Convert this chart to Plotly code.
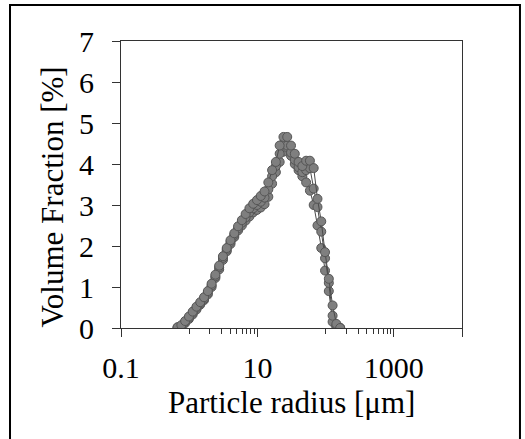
import plotly.graph_objects as go

# Particle radius bins [µm]
radius = [0.6754, 0.7672, 0.8719, 0.9905, 1.1254, 1.2785, 1.4528, 1.6505, 1.8755,
          2.1306, 2.4209, 2.7504, 3.1249, 3.5503, 4.0338, 4.5831, 5.2071, 5.9162,
          6.7218, 7.6370, 8.6770, 9.8585, 11.201, 12.726, 14.459, 16.428, 18.665,
          21.206, 24.094, 27.375, 31.102, 35.337, 40.149, 45.616, 51.827, 58.884,
          66.902, 76.012, 86.362, 98.118, 111.48, 126.66, 143.91, 163.51]

run_a = [0.02, 0.07, 0.17, 0.28, 0.40, 0.52, 0.63, 0.75, 0.90, 1.08, 1.30, 1.52,
         1.75, 1.95, 2.14, 2.31, 2.48, 2.63, 2.78, 2.92, 3.03, 3.12, 3.22, 3.33,
         3.55, 3.85, 4.05, 4.45, 4.66, 4.66, 4.45, 4.25, 4.05, 3.95, 4.08, 4.08,
         3.90, 3.15, 2.60, 1.85, 1.20, 0.55, 0.10, 0.00]
run_b = [0.01, 0.05, 0.15, 0.25, 0.37, 0.49, 0.60, 0.71, 0.86, 1.04, 1.26, 1.48,
         1.71, 1.91, 2.10, 2.27, 2.43, 2.57, 2.70, 2.82, 2.92, 3.00, 3.08, 3.18,
         3.38, 3.70, 3.95, 4.25, 4.50, 4.45, 4.28, 4.10, 3.92, 3.80, 3.85, 3.90,
         3.40, 2.95, 2.35, 1.70, 1.10, 0.30, 0.06, 0.00]
run_c = [0.00, 0.04, 0.12, 0.22, 0.33, 0.45, 0.57, 0.68, 0.82, 1.00, 1.22, 1.43,
         1.66, 1.87, 2.05, 2.22, 2.38, 2.50, 2.62, 2.72, 2.82, 2.88, 2.94, 3.02,
         3.20, 3.52, 3.80, 4.05, 4.30, 4.40, 4.20, 4.00, 3.85, 3.70, 3.55, 3.35,
         3.00, 2.50, 1.95, 1.40, 0.90, 0.15, 0.02, 0.00]

x_tickvals = [0.1, 10, 1000, 10000]
x_ticktext = ["0.1", "10", "1000", ""]
x_minor = [1, 2, 3, 4, 5, 6, 7, 8, 9, 100, 200, 300, 400, 500, 600, 700, 800, 900]
y_tickvals = [0, 1, 2, 3, 4, 5, 6, 7]

FONT = "Liberation Serif, Times New Roman, serif"

fig = go.Figure()
for run in (run_c, run_b, run_a):
    fig.add_trace(go.Scatter(
        x=radius, y=run, mode="lines+markers",
        line=dict(color="#4a4a4a", width=1),
        marker=dict(size=9, color="#7f7f7f", line=dict(color="#555555", width=1)),
        showlegend=False,
    ))

fig.update_layout(
    width=525, height=439,
    margin=dict(l=121, r=63, t=41, b=111),
    paper_bgcolor="white", plot_bgcolor="white",
    font=dict(family=FONT, size=30, color="black"),
    xaxis=dict(
        type="log", range=[-1, 4],
        tickvals=x_tickvals, ticktext=x_ticktext,
        ticks="outside", ticklen=8, tickcolor="#333", tickwidth=1,
        minor=dict(tickvals=x_minor, ticks="outside", ticklen=5, tickcolor="#333", tickwidth=1),
        showline=True, linecolor="#333", linewidth=1, mirror=True,
        showgrid=False, zeroline=False,
        ticklabelstandoff=5,
        tickfont=dict(family=FONT, size=30),
    ),
    yaxis=dict(
        range=[0, 7], tickvals=y_tickvals,
        ticks="outside", ticklen=8, tickcolor="#333", tickwidth=1,
        showline=True, linecolor="#333", linewidth=1, mirror=True,
        showgrid=False, zeroline=False,
        ticklabelstandoff=12,
        tickfont=dict(family=FONT, size=30),
    ),
    annotations=[
        dict(text="Volume Fraction [%]", textangle=-90, xref="paper", yref="paper",
             x=-0.2023, y=0.4547, xanchor="center", yanchor="middle", showarrow=False,
             font=dict(family=FONT, size=31)),
        dict(text="Particle radius [μm]", xref="paper", yref="paper",
             x=0.5, y=-0.2613, xanchor="center", yanchor="middle", showarrow=False,
             font=dict(family=FONT, size=31)),
    ],
    shapes=[
        dict(type="rect", xref="paper", yref="paper",
             x0=-0.3255, x1=1.170, y0=-0.42, y1=1.1254,
             line=dict(color="black", width=2), fillcolor="rgba(0,0,0,0)", layer="below"),
    ],
)

fig.write_html("out.html", config={"displayModeBar": False},
               post_script="document.body.style.margin='0px';")
